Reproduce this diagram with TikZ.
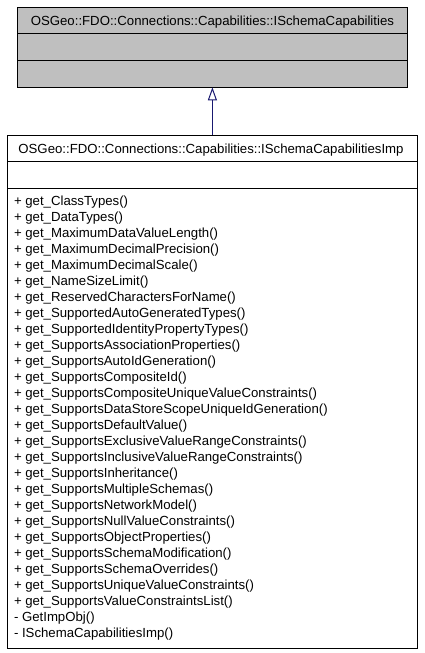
\documentclass[tikz,border=0pt]{standalone}
\usepackage{fontspec}
\setmainfont{Liberation Sans}
\usetikzlibrary{arrows.meta}
\definecolor{umlgray}{RGB}{191,191,191}
\definecolor{edgeblue}{RGB}{25,25,112}
\begin{document}
\begin{tikzpicture}[x=1pt,y=1pt,
  cell/.style={draw=black, line width=1pt, inner sep=0pt, outer sep=0pt, anchor=north west},
  topcell/.style={cell, fill=umlgray, minimum width=390.2},
  botcell/.style={cell, fill=white, minimum width=409.3},
  txt/.style={inner sep=0pt, outer sep=0pt, font=\fontsize{13.2}{16}\selectfont},
  meth/.style={txt, anchor=base west},
  inherit/.style={draw=edgeblue, line width=1pt, -{Triangle[open, width=9pt, length=13pt, line width=1pt]}}]
\useasboundingbox (0,0) rectangle (424,-653);
% base class
\node[topcell, minimum height=26] (t1) at (17.3,-7.3) {};
\node[topcell, minimum height=27] (t2) at (17.3,-33.3) {};
\node[topcell, minimum height=27] (t3) at (17.3,-60.3) {};
\node[txt, anchor=base] (t1label) at (212.4,-25.2) {OSGeo::FDO::Connections::Capabilities::ISchemaCapabilities};
% derived class
\node[botcell, minimum height=26.5] (b1) at (7.9,-135) {};
\node[botcell, minimum height=26.5] (b2) at (7.9,-161.5) {};
\node[botcell, minimum height=460] (b3) at (7.9,-188) {};
\node[txt, anchor=base] (b1label) at (211,-153) {OSGeo::FDO::Connections::Capabilities::ISchemaCapabilitiesImp};
\foreach \name [count=\i from 0] in {%
  + get\_ClassTypes(),
  + get\_DataTypes(),
  + get\_MaximumDataValueLength(),
  + get\_MaximumDecimalPrecision(),
  + get\_MaximumDecimalScale(),
  + get\_NameSizeLimit(),
  + get\_ReservedCharactersForName(),
  + get\_SupportedAutoGeneratedTypes(),
  + get\_SupportedIdentityPropertyTypes(),
  + get\_SupportsAssociationProperties(),
  + get\_SupportsAutoIdGeneration(),
  + get\_SupportsCompositeId(),
  + get\_SupportsCompositeUniqueValueConstraints(),
  + get\_SupportsDataStoreScopeUniqueIdGeneration(),
  + get\_SupportsDefaultValue(),
  + get\_SupportsExclusiveValueRangeConstraints(),
  + get\_SupportsInclusiveValueRangeConstraints(),
  + get\_SupportsInheritance(),
  + get\_SupportsMultipleSchemas(),
  + get\_SupportsNetworkModel(),
  + get\_SupportsNullValueConstraints(),
  + get\_SupportsObjectProperties(),
  + get\_SupportsSchemaModification(),
  + get\_SupportsSchemaOverrides(),
  + get\_SupportsUniqueValueConstraints(),
  + get\_SupportsValueConstraintsList(),
  - GetImpObj(),
  - ISchemaCapabilitiesImp()}
  \node[meth] (m\i) at (14,{-205-16.0*\i}) {\name};
% inheritance
\draw[inherit] (b1.north -| t3.south) -- (t3.south);
\end{tikzpicture}
\end{document}
